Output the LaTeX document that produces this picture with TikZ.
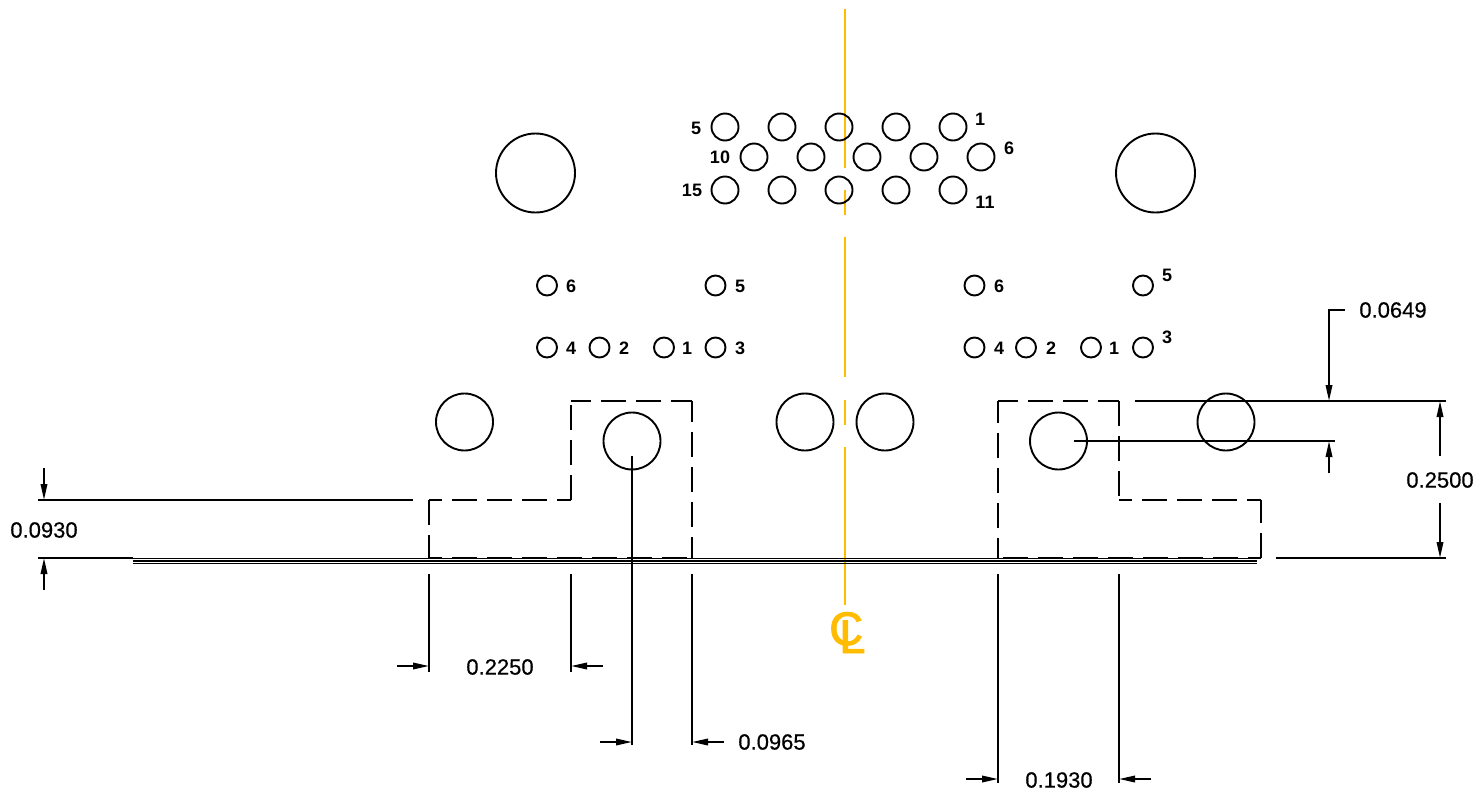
\documentclass[tikz,border=0pt]{standalone}
\usepackage{fontspec}
\setmainfont{Liberation Sans}
\newfontfamily\dimfont[FakeBold=0.5]{Liberation Sans}
\newfontfamily\clfont[FakeBold=2]{Liberation Sans}
\usetikzlibrary{arrows.meta}
\definecolor{clorange}{RGB}{255,188,0}
\tikzset{
  part/.style={line width=1.9pt},
  hidden/.style={line width=2.2pt,dash pattern=on 25pt off 10pt,dash phase=#1},
  extline/.style={line width=1.9pt},
  dimarrow/.style={line width=1.9pt,-{Stealth[length=16pt,width=6.5pt,inset=0pt]}},
  centerline/.style={line width=2.7pt,clorange},
  dimtext/.style={font=\dimfont\fontsize{22}{22}\selectfont},
  pintext/.style={font=\bfseries\fontsize{18}{18}\selectfont},
  cltext/.style={clorange,anchor=base west,inner sep=0pt,font=\clfont\fontsize{47}{47}\selectfont}
}
\begin{document}
\begin{tikzpicture}[x=1pt,y=-1pt]
\useasboundingbox (0,0) rectangle (1480,793);
% centre line
\foreach \ya/\yb in {9/168,190/215,237/377,400/425,447/605}
  \draw[centerline] (845,\ya) -- (845,\yb);
\node[cltext] (clmark) at (829,645) {C\kern-23.8pt\lower8pt\hbox{L}};
% holes
\foreach \x/\y in {535.5/173,1155.5/173}
  \draw[part] (\x,\y) circle (39.5);
\foreach \x/\y in {464.5/422,632/441,805/422,885/422,1058.5/441,1226/422}
  \draw[part] (\x,\y) circle (28.5);
\foreach \x in {725,782,839,896,953} {
  \draw[part] (\x,127) circle (13.5);
  \draw[part] (\x,190) circle (13.5);
}
\foreach \x in {754,811,867,924,981}
  \draw[part] (\x,157) circle (13.5);
\foreach \x/\y in {547/285.5,715.5/285.5,547/347.5,599.5/347.5,664/347.5,715.5/347.5,
                   974.5/285.5,1143/285.5,974.5/347.5,1026/347.5,1091/347.5,1143/347.5}
  \draw[part] (\x,\y) circle (10);
% pin numbers
\foreach \x/\y/\t in {696/128/5,980/119/1,720/157/10,1009/148/6,692/190/15,985/202/11,
                      571/286/6,740/286/5,571/348/4,624/348/2,687/348/1,740/348/3,
                      999/286/6,1167/275/5,999/348/4,1051/348/2,1114/348/1,1167/337/3}
  \node[pintext] at (\x,\y) {\t};
% plate
\foreach \y in {558.8,561,563.2}
  \draw[line width=1.2pt] (133,\y) -- (1257,\y);
% hidden outlines
\foreach \xa/\ya/\xb/\yb/\ph in {429/558/429/500/2,429/500/571/500/12,571/500/571/401/0,
                                 571/401/692/401/5,692/401/692/558/4,429/558/692/558/12,
                                 998/558/998/401/5,998/401/1119/401/5,1119/401/1119/500/0,
                                 1119/500/1261/500/12,1261/500/1261/558/2,1261/558/998/558/12}
  \draw[hidden=\ph] (\xa,\ya) -- (\xb,\yb);
% extension lines
\draw[extline] (38,500) -- (413,500);
\draw[extline] (38,558) -- (133,558);
\draw[extline] (1135,401) -- (1446,401);
\draw[extline] (1074,441) -- (1335,441);
\draw[extline] (1276,558) -- (1446,558);
\foreach \x/\ya/\yb in {429/574/672,571/574/672,632/456/745,692/574/745,998/574/783,1119/574/783}
  \draw[extline] (\x,\ya) -- (\x,\yb);
% dimension arrows
\draw[dimarrow] (1345,310) -- (1329,310) -- (1329,401);
\draw[dimarrow] (1329,473) -- (1329,441);
\draw[dimarrow] (1440,456) -- (1440,401);
\draw[dimarrow] (1440,503) -- (1440,558);
\draw[dimarrow] (44,468) -- (44,500);
\draw[dimarrow] (44,590) -- (44,558);
\draw[dimarrow] (397,666) -- (429,666);
\draw[dimarrow] (603,666) -- (571,666);
\draw[dimarrow] (600,742) -- (632,742);
\draw[dimarrow] (724,742) -- (692,742);
\draw[dimarrow] (966,779) -- (998,779);
\draw[dimarrow] (1151,779) -- (1119,779);
% dimension values
\node[dimtext] (dima) at (1393,310) {0.0649};
\node[dimtext] (dimb) at (1440,480) {0.2500};
\node[dimtext] (dimc) at (44,530) {0.0930};
\node[dimtext] (dimd) at (500,667) {0.2250};
\node[dimtext] (dime) at (772,742) {0.0965};
\node[dimtext] (dimf) at (1059,780) {0.1930};
\end{tikzpicture}
\end{document}
